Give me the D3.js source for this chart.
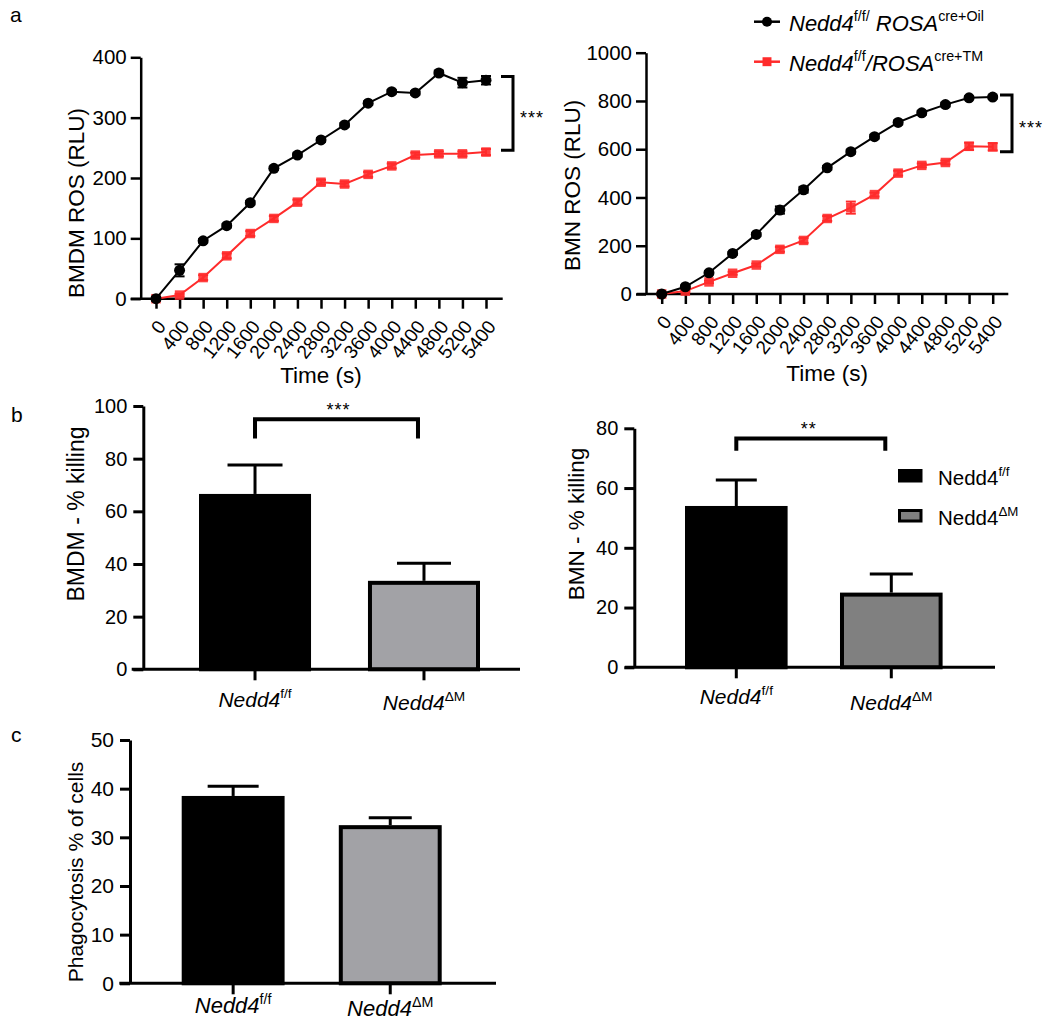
<!DOCTYPE html>
<html>
<head>
<meta charset="utf-8">
<script src="https://cdn.jsdelivr.net/npm/d3@7"></script>
<style>
  body { margin: 0; background: #fff; }
  svg { font-family: Arial, "Liberation Sans", Helvetica, sans-serif; }
</style>
</head>
<body>
<div id="figure"></div>
<script>
// ---- data ----
var times = [0, 400, 800, 1200, 1600, 2000, 2400, 2800, 3200, 3600, 4000, 4400, 4800, 5200, 5400];

// panel a, BMDM
var bmdmOil = [0, 47, 96, 121, 159, 216, 238, 263, 288, 324, 343, 341, 374, 358, 362];
var bmdmOilErr = [3, 10, 3, 3, 3, 3, 3, 3, 3, 3, 3, 3, 4, 8, 7];
var bmdmTM = [0, 6, 35, 71, 108, 133, 160, 193, 190, 206, 220, 238, 240, 240, 243];
var bmdmTMErr = [2, 2, 4, 4, 4, 4, 4, 4, 4, 4, 4, 4, 4, 4, 5];

// panel a, BMN
var bmnOil = [0, 30, 88, 168, 247, 348, 432, 523, 590, 652, 711, 751, 785, 813, 816];
var bmnOilErr = [5, 5, 6, 6, 6, 15, 12, 8, 8, 8, 8, 8, 8, 6, 6];
var bmnTM = [0, 12, 50, 86, 120, 185, 222, 313, 358, 412, 501, 533, 545, 612, 610];
var bmnTMErr = [4, 4, 5, 6, 6, 10, 10, 10, 25, 8, 10, 8, 8, 15, 15];

// panel b / c
var genotypes = ["ff", "dM"];
var genoBase = "Nedd4";
var genoSup = ["f/f", "\u0394M"];
var bmdmKill = [66.6, 33.6];
var bmdmKillErr = [11, 6.7];
var bmnKill = [54, 25];
var bmnKillErr = [8.7, 6.2];
var phago = [38.5, 32.5];
var phagoErr = [2.0, 1.5];

var red = "#ff2b2b";

// ---- svg ----
var svg = d3.select("#figure")
  .append("svg")
  .attr("width", 1050)
  .attr("height", 1024);

svg.append("rect").attr("width", 1050).attr("height", 1024).attr("fill", "#fff");

// text with superscripts; parts = [{t, italic, sup}]
function richText(sel, parts, size) {
  parts.forEach(function (p, i) {
    var prevSup = i > 0 && parts[i - 1].sup;
    var ts = sel.append("tspan").text(p.t)
      .attr("font-style", p.italic ? "italic" : "normal");
    if (p.sup) {
      ts.attr("font-size", size * 0.65);
      if (!prevSup) ts.attr("dy", -size * 0.42);
    } else if (prevSup) {
      ts.attr("dy", size * 0.42);
    }
  });
}

function styleAxis(g, sw, fs) {
  g.selectAll("path, line").attr("stroke", "#000").attr("stroke-width", sw);
  g.selectAll("text").attr("fill", "#000").attr("font-size", fs);
}

function yTitle(text, x, y, fs) {
  svg.append("text")
    .attr("transform", `translate(${x}, ${y}) rotate(-90)`)
    .attr("text-anchor", "middle")
    .attr("dominant-baseline", "central")
    .attr("font-size", fs)
    .text(text);
}

function stars(text, x, y, fs) {
  svg.append("text")
    .attr("x", x)
    .attr("y", y)
    .attr("font-size", fs)
    .attr("letter-spacing", 1)
    .text(text);
}

// panel letters
[["a", 10, 22], ["b", 11, 422], ["c", 11, 742]].forEach(function (l) {
  svg.append("text").attr("x", l[1]).attr("y", l[2]).attr("font-size", 21).text(l[0]);
});

// ---- line charts (panel a) ----
function lineChart(c) {
  var x = d3.scalePoint().domain(times).range(c.xRange);
  var y = d3.scaleLinear().domain(c.yDomain).range(c.yRange);
  var g = svg.append("g");

  // x axis
  var xg = g.append("g")
    .attr("transform", `translate(0, ${y(0)})`)
    .call(d3.axisBottom(x).tickSize(10).tickSizeOuter(0));
  xg.select(".domain").remove();
  xg.append("line")
    .attr("x1", c.xExtent[0]).attr("x2", c.xExtent[1]);
  xg.selectAll(".tick text")
    .attr("y", 0).attr("dy", "0.35em")
    .attr("text-anchor", "end")
    .attr("transform", "translate(5, 24) rotate(-52)");
  styleAxis(xg, 2.5, 19);

  // y axis
  var yg = g.append("g")
    .attr("transform", `translate(${c.yAxisX}, 0)`)
    .call(d3.axisLeft(y).tickValues(c.yTicks).tickFormat(d3.format("d"))
      .tickSize(10).tickSizeOuter(0).tickPadding(4));
  styleAxis(yg, 2.5, 20.5);

  // series
  c.series.forEach(function (s) {
    var pts = times.map(function (t, i) { return { t: t, v: s.v[i], e: s.e[i] }; });
    var line = d3.line().x(function (d) { return x(d.t); }).y(function (d) { return y(d.v); });
    var sg = g.append("g");
    sg.append("path")
      .datum(pts)
      .attr("d", line)
      .attr("fill", "none")
      .attr("stroke", s.color)
      .attr("stroke-width", 2);

    var eb = sg.selectAll(".err").data(pts).enter().append("g");
    eb.append("line")
      .attr("x1", function (d) { return x(d.t); })
      .attr("x2", function (d) { return x(d.t); })
      .attr("y1", function (d) { return y(d.v - d.e); })
      .attr("y2", function (d) { return y(d.v + d.e); })
      .attr("stroke", s.color).attr("stroke-width", 2);
    [-1, 1].forEach(function (sgn) {
      eb.append("line")
        .attr("x1", function (d) { return x(d.t) - 5; })
        .attr("x2", function (d) { return x(d.t) + 5; })
        .attr("y1", function (d) { return y(d.v + sgn * d.e); })
        .attr("y2", function (d) { return y(d.v + sgn * d.e); })
        .attr("stroke", s.color).attr("stroke-width", 2);
    });

    var sym = d3.symbol().type(s.shape === "circle" ? d3.symbolCircle : d3.symbolSquare)
      .size(s.shape === "circle" ? 95 : 90);
    sg.selectAll(".pt").data(pts).enter().append("path")
      .attr("d", sym)
      .attr("transform", function (d) { return `translate(${x(d.t)}, ${y(d.v)})`; })
      .attr("fill", s.color)
      .attr("fill-opacity", s.shape === "circle" ? 1 : 0.9);
  });

  // significance bracket
  var b = c.bracket;
  g.append("path")
    .attr("d", `M${b.x - 12},${y(b.top)}H${b.x}V${y(b.bottom)}H${b.x - 12}`)
    .attr("fill", "none").attr("stroke", "#000").attr("stroke-width", 3);
  stars("***", b.x + 7, (y(b.top) + y(b.bottom)) / 2 + 11, 18);

  yTitle(c.yTitle, c.yTitleX, (c.yRange[0] + c.yRange[1]) / 2 - c.yTitleShift, 22.5);
  svg.append("text")
    .attr("x", (c.xRange[0] + c.xRange[1]) / 2)
    .attr("y", c.xTitleY)
    .attr("text-anchor", "middle")
    .attr("font-size", 22.5)
    .text("Time (s)");
}

lineChart({
  xRange: [156, 486], xExtent: [130.7, 502.7], yAxisX: 140.7,
  yDomain: [0, 400], yRange: [298.7, 57.3], yTicks: [0, 100, 200, 300, 400],
  series: [
    { v: bmdmTM, e: bmdmTMErr, color: red, shape: "square" },
    { v: bmdmOil, e: bmdmOilErr, color: "#000", shape: "circle" }
  ],
  bracket: { x: 513, top: 368, bottom: 246 },
  yTitle: "BMDM ROS (RLU)", yTitleX: 76, yTitleShift: -25, xTitleY: 383
});

lineChart({
  xRange: [661.7, 992.7], xExtent: [636.7, 1008.3], yAxisX: 646,
  yDomain: [0, 1000], yRange: [294, 52.7], yTicks: [0, 200, 400, 600, 800, 1000],
  series: [
    { v: bmnTM, e: bmnTMErr, color: red, shape: "square" },
    { v: bmnOil, e: bmnOilErr, color: "#000", shape: "circle" }
  ],
  bracket: { x: 1012, top: 825, bottom: 590 },
  yTitle: "BMN ROS (RLU)", yTitleX: 572, yTitleShift: -12, xTitleY: 381
});

// legend for panel a
var legendItems = [
  { color: "#000", shape: "circle", parts: [
    { t: "Nedd4", italic: true }, { t: "f/f/", sup: true }, { t: " ROSA", italic: true }, { t: "cre+Oil", sup: true }] },
  { color: red, shape: "square", parts: [
    { t: "Nedd4", italic: true }, { t: "f/f", sup: true }, { t: "/ROSA", italic: true }, { t: "cre+TM", sup: true }] }
];
var legend = svg.append("g").selectAll("g").data(legendItems).enter().append("g")
  .attr("transform", function (d, i) { return `translate(754, ${21.7 + i * 40})`; });
legend.append("line").attr("x1", 0).attr("x2", 26)
  .attr("stroke", function (d) { return d.color; }).attr("stroke-width", 2.5);
legend.append("path")
  .attr("d", function (d) {
    return d3.symbol().type(d.shape === "circle" ? d3.symbolCircle : d3.symbolSquare).size(80)();
  })
  .attr("transform", "translate(13, 0)")
  .attr("fill", function (d) { return d.color; });
legend.append("text")
  .attr("x", 35).attr("y", 9)
  .attr("font-size", 22)
  .each(function (d) { richText(d3.select(this), d.parts, 22); });

// ---- bar charts (panels b, c) ----
function barChart(c) {
  var x = d3.scaleBand().domain(genotypes).range(c.bandRange).paddingInner(c.padInner).paddingOuter(0);
  var y = d3.scaleLinear().domain(c.yDomain).range(c.yRange);
  var g = svg.append("g");
  var bw = x.bandwidth();

  var rows = genotypes.map(function (k, i) { return { k: k, v: c.values[i], e: c.errors[i], fill: c.fills[i], i: i }; });
  var sw = 4;

  // error bars (upper only)
  g.selectAll(".eb").data(rows).enter().append("line")
    .attr("x1", function (d) { return x(d.k) + bw / 2; })
    .attr("x2", function (d) { return x(d.k) + bw / 2; })
    .attr("y1", function (d) { return y(d.v); })
    .attr("y2", function (d) { return y(d.v + d.e); })
    .attr("stroke", "#000").attr("stroke-width", 3);
  g.selectAll(".cap").data(rows).enter().append("line")
    .attr("x1", function (d) { return x(d.k) + bw / 2 - c.caps[d.i] / 2; })
    .attr("x2", function (d) { return x(d.k) + bw / 2 + c.caps[d.i] / 2; })
    .attr("y1", function (d) { return y(d.v + d.e); })
    .attr("y2", function (d) { return y(d.v + d.e); })
    .attr("stroke", "#000").attr("stroke-width", 3);

  // bars
  g.selectAll(".bar").data(rows).enter().append("rect")
    .attr("x", function (d) { return x(d.k) + sw / 2; })
    .attr("y", function (d) { return y(d.v) + sw / 2; })
    .attr("width", bw - sw)
    .attr("height", function (d) { return y(0) - y(d.v) - sw / 2; })
    .attr("fill", function (d) { return d.fill; })
    .attr("stroke", "#000")
    .attr("stroke-width", sw);

  // x axis
  var xg = g.append("g")
    .attr("transform", `translate(0, ${y(0)})`)
    .call(d3.axisBottom(x).tickSize(11).tickSizeOuter(0).tickFormat(""));
  xg.select(".domain").remove();
  xg.append("line").attr("x1", c.xExtent[0]).attr("x2", c.xExtent[1]);
  styleAxis(xg, 3, c.labelSize);
  g.selectAll(".xl").data(rows).enter().append("text")
    .attr("x", function (d) { return x(d.k) + bw / 2; })
    .attr("y", function (d) { return y(0) + c.labelDy[d.i]; })
    .attr("text-anchor", "middle")
    .attr("font-size", c.labelSize)
    .each(function (d) {
      richText(d3.select(this), [{ t: genoBase, italic: true }, { t: genoSup[d.i], sup: true }], c.labelSize);
    });

  // y axis
  var yg = g.append("g")
    .attr("transform", `translate(${c.yAxisX}, 0)`)
    .call(d3.axisLeft(y).tickValues(c.yTicks).tickSize(10).tickSizeOuter(0).tickPadding(6));
  styleAxis(yg, 3, c.tickSize);

  // significance bracket
  if (c.bracket) {
    var b = c.bracket;
    var x0 = x(genotypes[0]) + bw / 2, x1 = x(genotypes[1]) + bw / 2 - 6;
    g.append("path")
      .attr("d", `M${x0},${y(b.leg)}V${y(b.top)}H${x1}V${y(b.leg)}`)
      .attr("fill", "none").attr("stroke", "#000").attr("stroke-width", 4);
    stars(b.stars, (x0 + x1) / 2 - 10, y(b.top) - 3, 18);
  }

  yTitle(c.yTitle, c.yTitleX, c.yTitleY, c.titleSize);
}

barChart({
  values: bmdmKill, errors: bmdmKillErr, fills: ["#000", "#a2a2a6"],
  bandRange: [199, 480], padInner: 0.337, xExtent: [131.7, 520],
  yDomain: [0, 100], yRange: [669.3, 406], yTicks: [0, 20, 40, 60, 80, 100], yAxisX: 143.3,
  caps: [55, 54], labelSize: 21, labelDy: [38, 41], tickSize: 20,
  bracket: { top: 95, leg: 87.7, stars: "***" },
  yTitle: "BMDM - % killing", yTitleX: 76, yTitleY: 514, titleSize: 23
});

barChart({
  values: bmnKill, errors: bmnKillErr, fills: ["#000", "#808080"],
  bandRange: [685, 942.6], padInner: 0.338, xExtent: [624.8, 995],
  yDomain: [0, 80], yRange: [667.3, 428.3], yTicks: [0, 20, 40, 60, 80], yAxisX: 634.3,
  caps: [41, 43], labelSize: 21, labelDy: [37, 43], tickSize: 20,
  bracket: { top: 76.6, leg: 72.5, stars: "**" },
  yTitle: "BMN - % killing", yTitleX: 576, yTitleY: 524, titleSize: 22.5
});

barChart({
  values: phago, errors: phagoErr, fills: ["#000", "#a2a2a6"],
  bandRange: [181.7, 441.7], padInner: 0.345, xExtent: [119.3, 496],
  yDomain: [0, 50], yRange: [983.3, 740], yTicks: [0, 10, 20, 30, 40, 50], yAxisX: 130,
  caps: [51, 43], labelSize: 22, labelDy: [30, 33], tickSize: 21,
  bracket: null,
  yTitle: "Phagocytosis % of cells", yTitleX: 75, yTitleY: 872, titleSize: 21
});

// legend for panel b (BMN)
var barLegend = [
  { fill: "#000", sup: genoSup[0] },
  { fill: "#808080", sup: genoSup[1] }
];
var bl = svg.append("g").selectAll("g").data(barLegend).enter().append("g")
  .attr("transform", function (d, i) { return `translate(898, ${469 + i * 40})`; });
bl.append("rect")
  .attr("x", 1.5).attr("y", 1.5).attr("width", 21.5).attr("height", 10.5)
  .attr("fill", function (d) { return d.fill; })
  .attr("stroke", "#000").attr("stroke-width", 3);
bl.append("text")
  .attr("x", 40).attr("y", 16)
  .attr("font-size", 20.5)
  .each(function (d) { richText(d3.select(this), [{ t: genoBase }, { t: d.sup, sup: true }], 20.5); });
</script>
</body>
</html>
